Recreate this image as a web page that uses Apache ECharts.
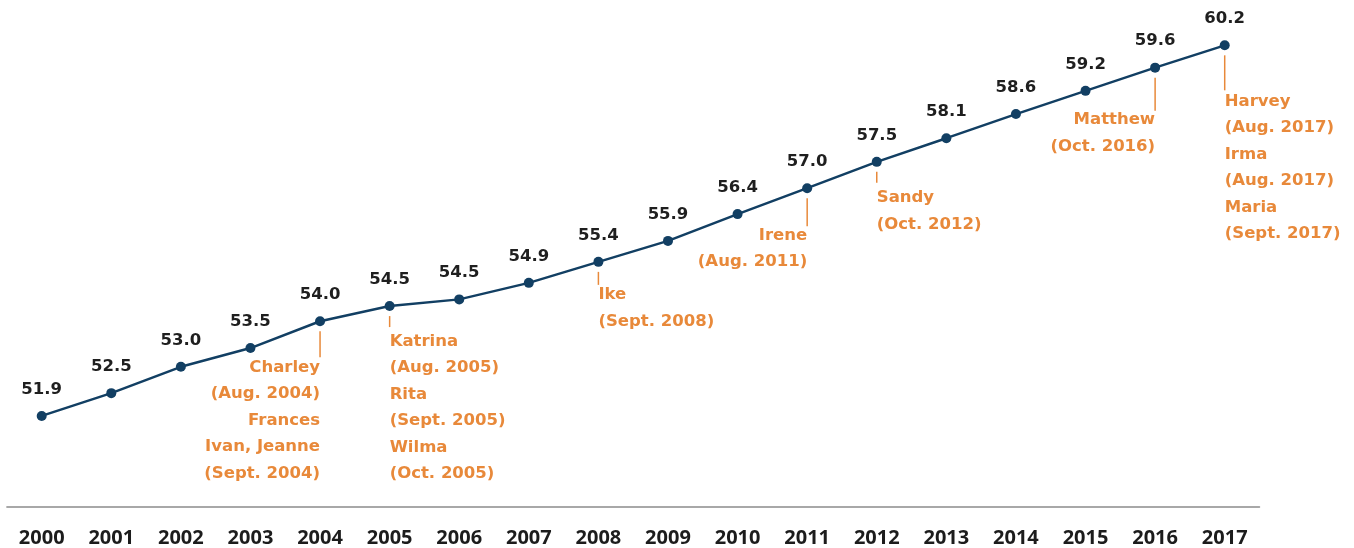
<!DOCTYPE html>
<html>
<head>
<meta charset="utf-8">
<title>Chart</title>
<script src="https://cdn.jsdelivr.net/npm/echarts@6/dist/echarts.min.js"></script>
<style>
  html, body { margin: 0; padding: 0; background: #fff; }
  #main { width: 1354px; height: 548px; }
</style>
</head>
<body>
<div id="main"></div>
<script>
// 数据
var years = ['2000', '2001', '2002', '2003', '2004', '2005', '2006', '2007', '2008',
             '2009', '2010', '2011', '2012', '2013', '2014', '2015', '2016', '2017'];
// plotted values
var values = [51.9, 52.41, 53.0, 53.42, 54.02, 54.36, 54.51, 54.88, 55.35,
              55.82, 56.42, 57.0, 57.59, 58.12, 58.66, 59.18, 59.7, 60.2];
// printed labels
var valueLabels = ['51.9', '52.5', '53.0', '53.5', '54.0', '54.5', '54.5', '54.9', '55.4',
                   '55.9', '56.4', '57.0', '57.5', '58.1', '58.6', '59.2', '59.6', '60.2'];
// hurricanes
var stormYears = ['2004', '2005', '2008', '2011', '2012', '2016', '2017'];
var stormTexts = [
    'Charley\n(Aug. 2004)\nFrances\nIvan, Jeanne\n(Sept. 2004)',
    'Katrina\n(Aug. 2005)\nRita\n(Sept. 2005)\nWilma\n(Oct. 2005)',
    'Ike\n(Sept. 2008)',
    'Irene\n(Aug. 2011)',
    'Sandy\n(Oct. 2012)',
    'Matthew\n(Oct. 2016)',
    'Harvey\n(Aug. 2017)\nIrma\n(Aug. 2017)\nMaria\n(Sept. 2017)'
];

/* 注释的排版 (leader end / text top, px below the point) */
var stormLayout = [
    {align: 'right', lineEnd: 36, textTop: 33},
    {align: 'left',  lineEnd: 21, textTop: 22},
    {align: 'left',  lineEnd: 23, textTop: 20},
    {align: 'right', lineEnd: 38, textTop: 34},
    {align: 'left',  lineEnd: 21, textTop: 23},
    {align: 'right', lineEnd: 43, textTop: 39},
    {align: 'left',  lineEnd: 45, textTop: 43}
];

var navy = '#123f63';
var orange = '#e8893a';
var labelFont = 'DejaVu Sans';

var stormData = stormYears.map(function (y, i) {
    var idx = years.indexOf(y);
    return [idx, values[idx], i];
});

var myChart = echarts.init(document.getElementById('main'));
var option = {
    animation: false,
    grid: {
        left: 6.9,
        right: 94.5,
        top: 9.6,
        bottom: 41
    },
    xAxis: {
        type: 'category',
        data: years,
        boundaryGap: true,
        axisLine: {
            show: true,
            lineStyle: {color: '#8c8c8c', width: 1.5}
        },
        axisTick: {show: false},
        axisLabel: {
            margin: 21,
            color: '#1c1c1c',
            fontFamily: 'Open Sans',
            fontWeight: 'bold',
            fontSize: 20
        },
        splitLine: {show: false}
    },
    yAxis: {
        type: 'value',
        min: 49.86,
        max: 61,
        show: false
    },
    series: [
        {
            type: 'line',
            data: values,
            symbol: 'circle',
            symbolSize: 10,
            lineStyle: {color: navy, width: 2.5},
            itemStyle: {color: navy},
            label: {
                show: true,
                position: 'top',
                distance: 13,
                color: '#1f1f1f',
                fontFamily: labelFont,
                fontWeight: 'bold',
                fontSize: 16.5,
                formatter: function (p) {
                    return valueLabels[p.dataIndex];
                }
            },
            z: 3
        },
        {
            type: 'custom',
            data: stormData,
            silent: true,
            z: 2,
            renderItem: function (params, api) {
                var k = api.value(2);
                var lay = stormLayout[k];
                var p = api.coord([api.value(0), api.value(1)]);
                return {
                    type: 'group',
                    children: [
                        {
                            type: 'line',
                            shape: {x1: p[0], y1: p[1] + 10, x2: p[0], y2: p[1] + lay.lineEnd},
                            style: {stroke: orange, lineWidth: 1.5}
                        },
                        {
                            type: 'text',
                            style: {
                                text: stormTexts[k],
                                x: p[0],
                                y: p[1] + lay.textTop,
                                align: lay.align,
                                verticalAlign: 'top',
                                fill: orange,
                                fontFamily: labelFont,
                                fontWeight: 'bold',
                                fontSize: 16.5,
                                lineHeight: 26.5
                            }
                        }
                    ]
                };
            }
        }
    ]
};
myChart.setOption(option);
</script>
</body>
</html>
